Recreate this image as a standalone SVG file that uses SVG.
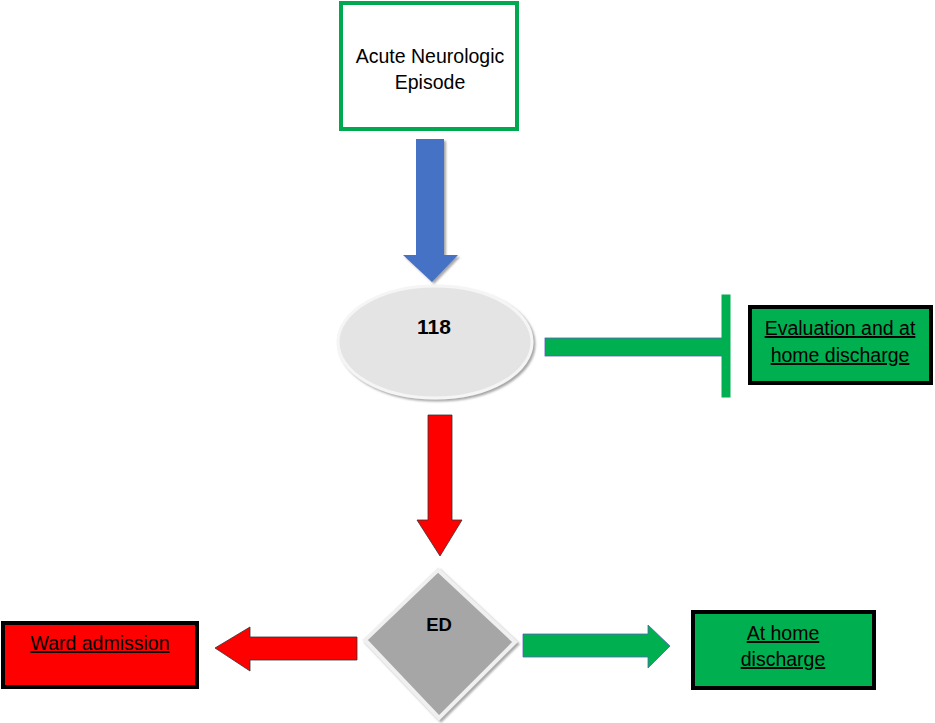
<svg xmlns="http://www.w3.org/2000/svg" width="935" height="723" viewBox="0 0 935 723">
<style>
text{font-family:"Liberation Sans",Arial,sans-serif;fill:#000;text-anchor:middle}
.lbl{font-size:19.5px}
.ul{text-decoration:underline}
.bold{font-weight:bold;font-size:18.5px}
.box{stroke:#000;stroke-width:4}
</style>
<defs>
<filter id="sh" x="-20%" y="-20%" width="140%" height="140%">
<feDropShadow dx="2" dy="2" stdDeviation="1.2" flood-color="#808080" flood-opacity="0.7"/>
</filter>
</defs>
<rect width="935" height="723" fill="#fff"/>

<g id="node-acute">
<rect x="341" y="3" width="176" height="126" fill="#fff" stroke="#00a84f" stroke-width="4"/>
<text class="lbl" x="430" y="63">Acute Neurologic</text>
<text class="lbl" x="430" y="89">Episode</text>
</g>

<g id="node-118">
<ellipse cx="435" cy="342" rx="97" ry="56" fill="#e4e4e4" stroke="#f5f5f5" stroke-width="3" filter="url(#sh)"/>
<text class="bold" x="434" y="334" style="font-size:21px">118</text>
</g>

<g id="node-eval">
<rect x="750" y="307" width="181" height="76" fill="#00b050" class="box"/>
<text class="lbl ul" x="840" y="335">Evaluation and at</text>
<text class="lbl ul" x="840" y="362">home discharge</text>
</g>

<g id="node-ed">
<polygon points="438,570 515,642 439,718 365,640" fill="#a6a6a6" stroke="#f0f0f0" stroke-width="4" filter="url(#sh)"/>
<text class="bold" x="439" y="631">ED</text>
</g>

<g id="node-ward">
<rect x="3" y="623" width="194" height="64" fill="#ff0000" class="box"/>
<text class="lbl ul" x="100" y="650">Ward admission</text>
</g>

<g id="node-home">
<rect x="693" y="612" width="181" height="76" fill="#00b050" class="box"/>
<text class="lbl ul" x="783" y="640">At home</text>
<text class="lbl ul" x="783" y="666">discharge</text>
</g>

<g id="connectors">
<polygon points="416,139 444,139 444,255 458,255 432,282 403,255 416,255" fill="#4472c4" filter="url(#sh)"/>
<g fill="#00b050">
<rect x="545" y="338" width="178" height="18" stroke="#5b5bc8" stroke-width="0.8"/>
<rect x="722" y="295" width="8" height="102" stroke="#00b050"/>
</g>
<polygon points="428,415 452,415 452,520 462,520 440,556 417,520 428,520" fill="#ff0000" stroke="#333" stroke-width="0.8"/>
<polygon points="357,637 250,637 250,627 215,648 250,671 250,660 357,660" fill="#ff0000" stroke="#333" stroke-width="0.8"/>
<polygon points="523,634 648,634 648,625 670,646 648,668 648,657 523,657" fill="#00b050" stroke="#5b5bc8" stroke-width="0.8"/>
</g>
</svg>
